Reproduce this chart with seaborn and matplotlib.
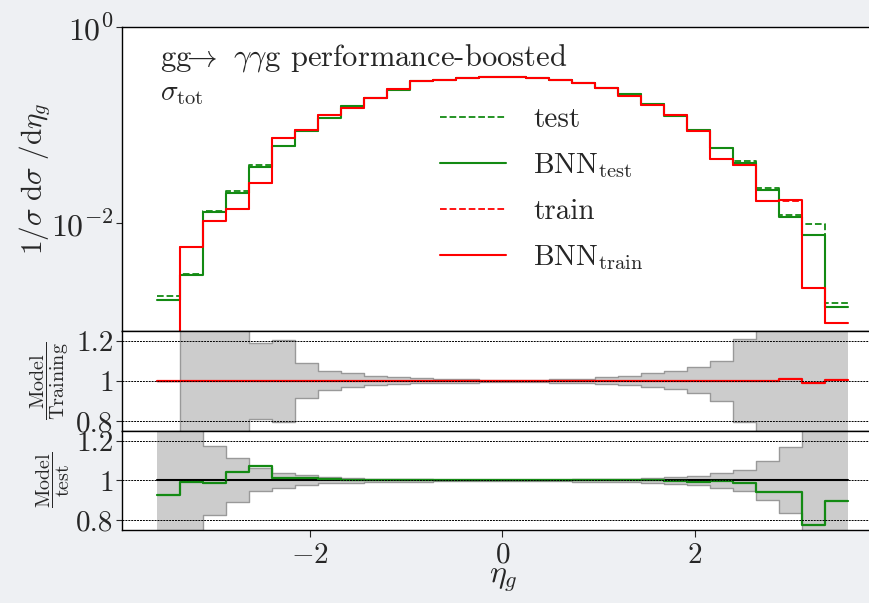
import numpy as np
import matplotlib
matplotlib.use("Agg")
import matplotlib.pyplot as plt
import seaborn as sns
from matplotlib.ticker import FixedLocator, FixedFormatter, NullLocator

# ---------------- data ----------------
bin_edges = np.round(np.linspace(-3.6, 3.6, 31), 2)

bnn_test = [1.65e-3, 2.99e-3, 1.31e-2, 2.05e-2, 3.73e-2, 6.08e-2, 8.71e-2, 0.119, 0.156, 0.187,
            0.229, 0.279, 0.287, 0.301, 0.312, 0.306, 0.303, 0.287, 0.270, 0.236,
            0.205, 0.164, 0.124, 0.0886, 0.0584, 0.0414, 0.0216, 0.0115, 0.0076, 1.39e-3]
test = [1.80e-3, 3.01e-3, 1.32e-2, 2.12e-2, 3.92e-2, 6.16e-2, 8.71e-2, 0.119, 0.156, 0.187,
        0.229, 0.279, 0.287, 0.301, 0.312, 0.306, 0.303, 0.287, 0.270, 0.236,
        0.205, 0.164, 0.124, 0.0886, 0.0584, 0.0427, 0.0228, 0.0120, 0.0097, 1.54e-3]
bnn_train = [0.0, 5.69e-3, 1.05e-2, 1.39e-2, 2.56e-2, 7.43e-2, 8.86e-2, 0.126, 0.151, 0.189,
             0.232, 0.279, 0.287, 0.301, 0.312, 0.306, 0.303, 0.287, 0.270, 0.236,
             0.197, 0.160, 0.126, 0.0871, 0.0455, 0.0395, 0.0168, 0.0171, 2.17e-3, 9.6e-4]
train = [0.0, 5.69e-3, 1.05e-2, 1.39e-2, 2.56e-2, 7.43e-2, 8.86e-2, 0.126, 0.151, 0.189,
         0.232, 0.279, 0.287, 0.301, 0.312, 0.306, 0.303, 0.287, 0.270, 0.236,
         0.197, 0.160, 0.126, 0.0871, 0.0455, 0.0395, 0.0168, 0.0169, 2.19e-3, 9.55e-4]

# Model / Training panel
ratio_train = [1.0, 1.0, 1.0, 1.0, 1.0, 1.0, 1.0, 1.0, 1.0, 1.0,
               1.0, 1.0, 1.0, 1.0, 1.0, 1.0, 1.0, 1.0, 1.0, 1.0,
               1.0, 1.0, 1.0, 1.0, 1.0, 1.0, 1.0, 1.01, 0.99, 1.005]
band_train_up = [1.0, 1.6, 1.6, 1.6, 1.19, 1.205, 1.088, 1.052, 1.038, 1.027,
                 1.02, 1.013, 1.01, 1.008, 1.006, 1.006, 1.007, 1.009, 1.011, 1.02,
                 1.027, 1.04, 1.048, 1.07, 1.10, 1.21, 1.6, 1.6, 1.6, 1.6]
band_train_lo = [1.0, 0.4, 0.4, 0.4, 0.81, 0.797, 0.913, 0.955, 0.972, 0.978,
                 0.984, 0.988, 0.99, 0.992, 0.994, 0.994, 0.993, 0.991, 0.99, 0.985,
                 0.978, 0.968, 0.958, 0.938, 0.90, 0.797, 0.4, 0.4, 0.4, 0.4]

# Model / test panel
ratio_test = [0.928, 0.992, 0.988, 1.045, 1.072, 1.012, 1.012, 1.008, 1.003, 1.0,
              1.0, 1.0, 1.0, 1.0, 1.0, 1.0, 1.0, 1.0, 1.0, 1.0,
              1.0, 1.0, 0.998, 0.992, 0.995, 0.987, 0.942, 0.942, 0.775, 0.897]
band_test_up = [1.6, 1.6, 1.175, 1.113, 1.062, 1.038, 1.028, 1.018, 1.013, 1.01,
                1.007, 1.006, 1.005, 1.004, 1.004, 1.004, 1.004, 1.005, 1.006, 1.008,
                1.01, 1.012, 1.017, 1.022, 1.037, 1.055, 1.10, 1.167, 1.6, 1.6]
band_test_lo = [0.4, 0.4, 0.828, 0.892, 0.945, 0.963, 0.975, 0.985, 0.988, 0.99,
                0.993, 0.994, 0.995, 0.996, 0.996, 0.996, 0.996, 0.995, 0.994, 0.992,
                0.99, 0.988, 0.984, 0.978, 0.963, 0.945, 0.90, 0.837, 0.4, 0.4]

x_ticks = [-2, 0, 2]
x_tick_labels = [r"$-2$", r"$0$", r"$2$"]
y_ticks_top = [1e-2, 1.0]
y_tick_labels_top = [r"$10^{-2}$", r"$10^{0}$"]
ratio_ticks = [0.8, 1.0, 1.2]
ratio_tick_labels = ["0.8", "1", "1.2"]

# ---------------- style ----------------
sns.set_style("ticks")
plt.rcParams["font.family"] = "serif"
plt.rcParams["font.serif"] = ["cmr10", "DejaVu Serif"]
plt.rcParams["mathtext.fontset"] = "cm"
plt.rcParams["axes.unicode_minus"] = False
plt.rcParams["axes.formatter.use_mathtext"] = True

GREEN = "#138a13"
RED = "#ff0000"
FIG_BG = "#eef0f3"


def ext(v):
    return list(v) + [v[-1]]


fig = plt.figure(figsize=(8.7, 6.03), dpi=100, facecolor=FIG_BG)
L, W = 122 / 870, 761 / 870
ax0 = fig.add_axes([L, 1 - 331 / 603, W, 304 / 603])
ax1 = fig.add_axes([L, 1 - 431 / 603, W, 100 / 603])
ax2 = fig.add_axes([L, 1 - 530 / 603, W, 99 / 603])

# ---------------- top panel ----------------
sns.lineplot(x=bin_edges, y=ext(test), drawstyle="steps-post", color=GREEN, linestyle="--",
             linewidth=1.3, estimator=None, sort=False, ax=ax0, label="test")
sns.lineplot(x=bin_edges, y=ext(bnn_test), drawstyle="steps-post", color=GREEN, linestyle="-",
             linewidth=1.5, estimator=None, sort=False, ax=ax0, label=r"BNN$_{\mathrm{test}}$")
sns.lineplot(x=bin_edges, y=ext(train), drawstyle="steps-post", color=RED, linestyle="--",
             linewidth=1.3, estimator=None, sort=False, ax=ax0, label="train")
sns.lineplot(x=bin_edges, y=ext(bnn_train), drawstyle="steps-post", color=RED, linestyle="-",
             linewidth=1.5, estimator=None, sort=False, ax=ax0, label=r"BNN$_{\mathrm{train}}$")
ax0.set_yscale("log")
ax0.set_ylim(10 ** -3.1, 1.0)
ax0.yaxis.set_major_locator(FixedLocator(y_ticks_top))
ax0.yaxis.set_major_formatter(FixedFormatter(y_tick_labels_top))
ax0.yaxis.set_minor_locator(NullLocator())

leg = ax0.legend(loc="upper left", bbox_to_anchor=(440 / 870, 1 - 107 / 603),
                 bbox_transform=fig.transFigure, frameon=False, fontsize=21,
                 handlelength=2.27, handletextpad=0.92, labelspacing=0.62,
                 borderpad=0, borderaxespad=0)

fig.text(160 / 870, 1 - 65 / 603, r"gg$\!\!\rightarrow\!\,$ $\gamma\gamma$g performance-boosted",
         fontsize=22, va="baseline", ha="left")
fig.text(160 / 870, 1 - 100 / 603, r"$\sigma_{\mathrm{tot}}$", fontsize=21, va="baseline", ha="left")
fig.text(35 / 870, 1 - 179 / 603, r"$1/\sigma\ \mathrm{d}\sigma\ /\mathrm{d}\eta_g$",
         fontsize=21, rotation=90, ha="center", va="center")


def ratio_panel(ax, ratio, up, lo, color, ref_line):
    ax.fill_between(bin_edges, ext(lo), ext(up), step="post", facecolor="#cccccc",
                    edgecolor="none", zorder=1)
    sns.lineplot(x=bin_edges, y=ext(up), drawstyle="steps-post", color="#999999",
                 linewidth=1.0, estimator=None, sort=False, ax=ax, zorder=2)
    sns.lineplot(x=bin_edges, y=ext(lo), drawstyle="steps-post", color="#999999",
                 linewidth=1.0, estimator=None, sort=False, ax=ax, zorder=2)
    if ref_line:
        sns.lineplot(x=bin_edges, y=[1.0] * len(bin_edges), drawstyle="steps-post", color="black",
                     linewidth=1.5, estimator=None, sort=False, ax=ax, zorder=3)
    sns.lineplot(x=bin_edges, y=ext(ratio), drawstyle="steps-post", color=color,
                 linewidth=1.6, estimator=None, sort=False, ax=ax, zorder=4)
    for yv in ratio_ticks:
        ax.axhline(yv, color="black", linewidth=0.7, linestyle=(0, (2, 1)), zorder=5)
    ax.set_ylim(0.75, 1.25)
    ax.yaxis.set_major_locator(FixedLocator(ratio_ticks))
    ax.yaxis.set_major_formatter(FixedFormatter(ratio_tick_labels))
    ax.yaxis.set_minor_locator(NullLocator())


ratio_panel(ax1, ratio_train, band_train_up, band_train_lo, RED, False)
ratio_panel(ax2, ratio_test, band_test_up, band_test_lo, GREEN, True)

fig.text(50 / 870, 1 - 381 / 603, r"$\dfrac{\mathrm{Model}}{\mathrm{Training}}$",
         fontsize=14.5, rotation=90, ha="center", va="center")
fig.text(53 / 870, 1 - 480 / 603, r"$\dfrac{\mathrm{Model}}{\mathrm{test}}$",
         fontsize=14.5, rotation=90, ha="center", va="center")

for ax in (ax0, ax1, ax2):
    ax.set_xlim(-3.96, 3.96)
    ax.set_facecolor("white")
    ax.set_xlabel("")
    ax.set_ylabel("")
    for s in ax.spines.values():
        s.set_color("black")
        s.set_linewidth(1.0)
    ax.tick_params(axis="y", direction="out", length=4, width=0.8, labelsize=21, pad=2)
    ax.set_xticks(x_ticks)

ax0.tick_params(axis="y", labelsize=23)
ax0.tick_params(axis="x", length=0, labelbottom=False)
ax1.tick_params(axis="x", length=0, labelbottom=False)
ax2.set_xticklabels(x_tick_labels)
ax2.tick_params(axis="x", direction="out", length=5, width=0.8, labelsize=21, pad=4)

fig.text(503 / 870, 1 - 580 / 603, r"$\eta_g$", fontsize=23, ha="center", va="center")

fig.savefig("out.png", dpi=100, facecolor=fig.get_facecolor())
